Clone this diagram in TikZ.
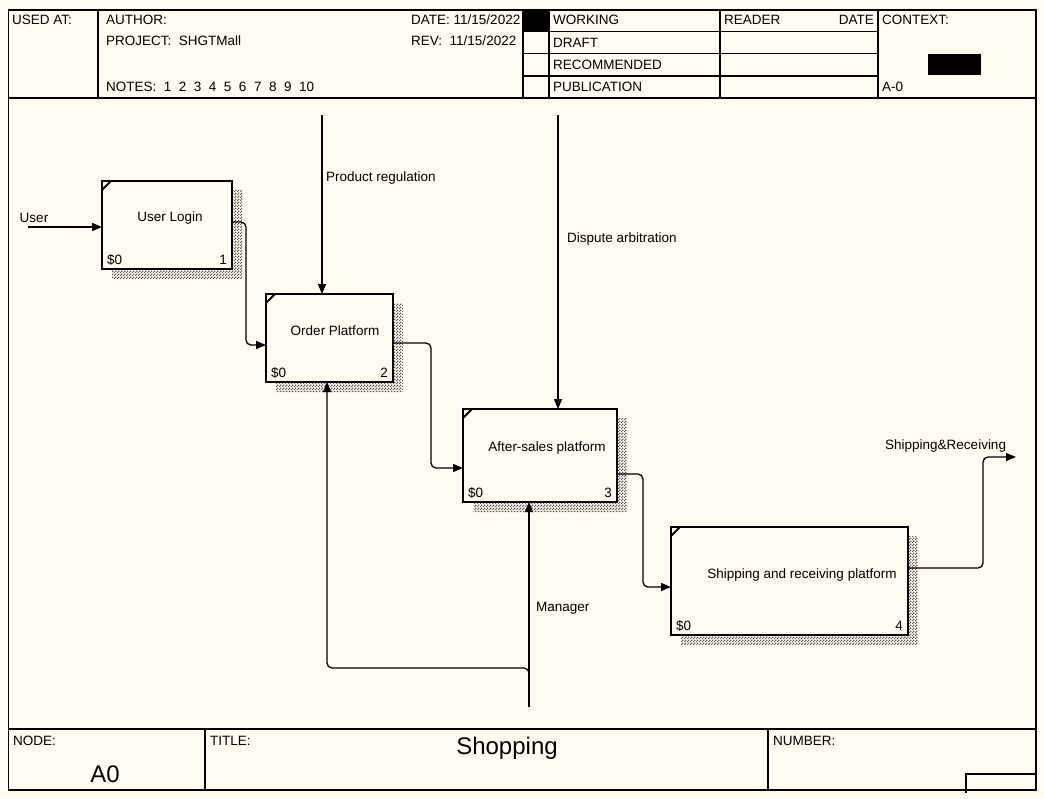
\documentclass[tikz,border=0pt]{standalone}
\usepackage{fontspec}
\setmainfont{Liberation Sans}
\usetikzlibrary{arrows.meta,patterns,patterns.meta,calc}
\definecolor{bg}{HTML}{FFFBF0}
\pgfdeclarepattern{
  name=finechecker,
  type=uncolored,
  bottom left={\pgfpoint{0pt}{0pt}},
  top right={\pgfpoint{3pt}{3pt}},
  tile size={\pgfpoint{3pt}{3pt}},
  code={
    \pgfpathrectangle{\pgfpoint{0pt}{0pt}}{\pgfpoint{1.5pt}{1.5pt}}
    \pgfpathrectangle{\pgfpoint{1.5pt}{1.5pt}}{\pgfpoint{1.5pt}{1.5pt}}
    \pgfusepath{fill}
  }
}
\newcommand\idefshadow[1]{%
  \fill[shadowfill] ($(#1.north east)+(1.2,9)$) -- ($(#1.north east)+(10,9)$) -- ($(#1.south east)+(10,10)$) -- ($(#1.south west)+(10,10)$) -- ($(#1.south west)+(10,1.2)$) -- ($(#1.south east)+(1.2,1.2)$) -- cycle;
  \draw[line width=1.8pt] ($(#1.north west)+(0,9)$) -- ($(#1.north west)+(9,0)$);}
\begin{document}
\begin{tikzpicture}[x=1pt,y=-1pt,
  txt/.style={inner sep=0pt, font=\fontsize{13.5}{15}\selectfont},
  hd/.style={txt, anchor=base west},
  box/.style={draw, line width=2.4pt, fill=bg, inner sep=0pt, outer sep=0pt},
  shadowfill/.style={pattern=finechecker, pattern color=black!65},
  frame/.style={line width=1.1pt},
  arr/.style={line width=1.3pt, rounded corners=5pt, -{Triangle[length=10pt,width=8pt]}},
  ln/.style={line width=1.3pt, rounded corners=5pt}]
\useasboundingbox[fill=bg] (0,0) rectangle (1044,798);
% ---------- frame ----------
\draw[frame] (8.5,10) rectangle (1036,790);
\draw[frame] (8.5,98) -- (1036,98);
\draw[frame] (98,10) -- (98,98);
\draw[frame] (523,10) -- (523,98);
\draw[frame] (549,10) -- (549,98);
\draw[frame] (720,10) -- (720,98);
\draw[frame] (878,10) -- (878,98);
\fill (523,10) rectangle (549,31.5);
\draw[frame] (523,31.5) -- (878,31.5);
\draw[frame] (523,53.5) -- (878,53.5);
\draw[frame] (523,76) -- (878,76);
\fill (928,54) rectangle (981,75);
% header texts
\node[hd] (usedat) at (12,24) {USED AT:};
\node[hd] (author) at (106,24) {AUTHOR:};
\node[hd] (project) at (106,45) {PROJECT:\ \ SHGTMall};
\node[hd] (notes) at (106,91) {NOTES:\ \ 1\ \ 2\ \ 3\ \ 4\ \ 5\ \ 6\ \ 7\ \ 8\ \ 9\ \ 10};
\begin{scope}
\clip (400,10) rectangle (523,98);
\node[hd] (date) at (411,24) {DATE: 11/15/2022};
\node[hd] (rev) at (411,45) {REV:\ \ 11/15/2022};
\end{scope}
\node[hd] (working) at (553,24) {WORKING};
\node[hd] (draft) at (553,47) {DRAFT};
\node[hd] (recom) at (553,69.5) {RECOMMENDED};
\node[hd] (publ) at (553,91) {PUBLICATION};
\node[hd] (reader) at (724,24) {READER};
\node[txt, anchor=base east] (rdate) at (874,24) {DATE};
\node[hd] (context) at (882,24) {CONTEXT:};
\node[hd] (azero) at (882,91) {A-0};
% ---------- footer ----------
\draw[frame] (8.5,729) -- (1036,729);
\draw[frame] (205,729) -- (205,790);
\draw[frame] (768,729) -- (768,790);
\draw[frame] (966,792.5) -- (966,774) -- (1036,774);
\node[hd] (nodel) at (13,745) {NODE:};
\node[hd] (titlel) at (210,745) {TITLE:};
\node[hd] (numl) at (773,745) {NUMBER:};
\node[inner sep=0pt, font=\fontsize{24}{26}\selectfont, anchor=base] (title) at (507,754) {Shopping};
\node[inner sep=0pt, font=\fontsize{24}{26}\selectfont, anchor=base] (nodeid) at (105,782) {A0};
% ---------- boxes ----------
\node[box, minimum width=130pt, minimum height=88pt] (b1) at (167,225) {};
\node[box, minimum width=127pt, minimum height=88pt] (b2) at (329.5,338) {};
\node[box, minimum width=154pt, minimum height=93pt] (b3) at (540,455.5) {};
\node[box, minimum width=237pt, minimum height=108pt] (b4) at (789.5,581) {};
\idefshadow{b1}\idefshadow{b2}\idefshadow{b3}\idefshadow{b4}
\node[txt] (t1) at (170,218) {User Login};
\node[txt] (t2) at (335,331) {Order Platform};
\node[txt] (t3) at (547,448) {After-sales platform};
\node[txt] (t4) at (802,575) {Shipping and receiving platform};
\foreach \b/\n in {b1/1,b2/2,b3/3,b4/4}{
  \node[hd] (\b s) at ($(\b.south west)+(5,-5)$) {\$0};
  \node[txt, anchor=base east] (\b n) at ($(\b.south east)+(-5,-5)$) {\n};
}
% ---------- connectors ----------
\coordinate (uin) at (28,227);
\draw[arr] (uin) -- (uin -| b1.west);
\node[txt] (ulab) at (34,218) {User};
\draw[arr] (b1.east |- 0,222) -| (246,345) -- (b2.west |- 0,345);
\draw[arr] (b2.east |- 0,343) -| (431,468) -- (b3.west |- 0,468);
\draw[arr] (b3.east |- 0,474) -| (643,587) -- (b4.west |- 0,587);
\coordinate (sout) at (1016,457);
\draw[arr] (b4.east |- 0,568) -| (983,457) -- (sout);
\node[txt, anchor=base west] (slab) at (885,449) {Shipping\&Receiving};
\coordinate (c1) at (322,115);
\draw[arr] (c1) -- (c1 |- b2.north);
\node[txt, anchor=west] (c1lab) at (326,178) {Product regulation};
\coordinate (c2) at (558,115);
\draw[arr] (c2) -- (c2 |- b3.north);
\node[txt, anchor=west] (c2lab) at (567,239) {Dispute arbitration};
\coordinate (m1) at (529,707);
\draw[arr] (m1) -- (m1 |- b3.south);
\node[txt, anchor=west] (mlab) at (536,608) {Manager};
\draw[arr] (529,678) |- (327,668) -- (327,0 |- b2.south);
\end{tikzpicture}
\end{document}
